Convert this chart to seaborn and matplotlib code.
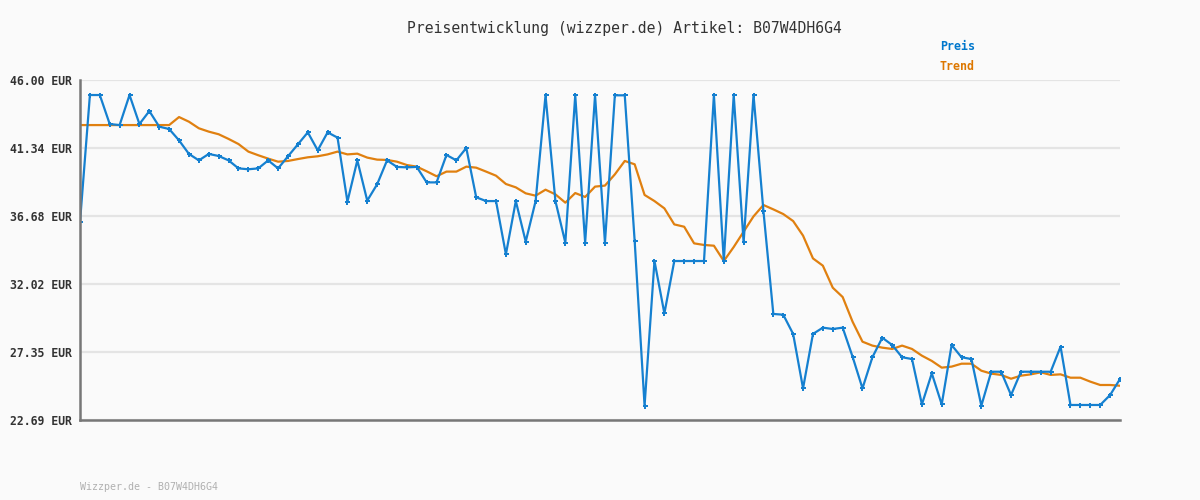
import pandas as pd
import numpy as np
import matplotlib
matplotlib.use('Agg')
import matplotlib.pyplot as plt
import seaborn as sns

# ==========================================
# 1. Price history values
# ==========================================
preis = [36.26, 44.97, 44.97, 42.98, 42.91, 44.97, 42.98, 43.87, 42.80, 42.64,
         41.86, 40.93, 40.49, 40.93, 40.79, 40.49, 39.94, 39.88, 39.94, 40.49,
         39.94, 40.77, 41.59, 42.41, 41.18, 42.41, 42.05, 37.66, 40.49, 37.73,
         38.85, 40.49, 40.04, 40.01, 40.04, 38.98, 38.98, 40.86, 40.49, 41.34,
         37.96, 37.70, 37.70, 34.05, 37.70, 34.92, 37.70, 44.95, 37.70, 34.85,
         44.95, 34.85, 44.95, 34.85, 44.95, 44.95, 34.96, 23.67, 33.59, 30.00,
         33.59, 33.59, 33.59, 33.59, 44.97, 33.59, 44.97, 34.87, 44.97, 37.02,
         29.96, 29.91, 28.59, 24.86, 28.59, 29.02, 28.93, 29.02, 27.03, 24.86,
         26.99, 28.33, 27.83, 26.99, 26.87, 23.76, 25.89, 23.76, 27.83, 26.99,
         26.87, 23.67, 26.00, 26.00, 24.40, 26.00, 26.00, 26.00, 26.00, 27.72,
         23.72, 23.72, 23.72, 23.72, 24.40, 25.50]

trend = [42.91, 42.91, 42.91, 42.91, 42.91, 42.91, 42.91, 42.91, 42.91, 42.91,
         43.46, 43.14, 42.69, 42.46, 42.28, 41.96, 41.61, 41.09, 40.84, 40.61,
         40.40, 40.45, 40.58, 40.70, 40.77, 40.90, 41.09, 40.90, 40.95, 40.68,
         40.54, 40.52, 40.40, 40.17, 40.06, 39.74, 39.40, 39.72, 39.72, 40.06,
         39.99, 39.72, 39.44, 38.87, 38.64, 38.23, 38.07, 38.48, 38.16, 37.59,
         38.25, 37.98, 38.69, 38.76, 39.53, 40.45, 40.22, 38.12, 37.70, 37.20,
         36.10, 35.94, 34.80, 34.69, 34.64, 33.59, 34.55, 35.60, 36.65, 37.43,
         37.13, 36.81, 36.33, 35.33, 33.77, 33.27, 31.76, 31.12, 29.43, 28.06,
         27.79, 27.65, 27.56, 27.79, 27.56, 27.10, 26.74, 26.28, 26.35, 26.55,
         26.55, 26.07, 25.87, 25.78, 25.52, 25.73, 25.82, 25.96, 25.78, 25.82,
         25.59, 25.59, 25.32, 25.09, 25.09, 25.04]

ytick_labels = ['22.69', '27.35', '32.02', '36.68', '41.34', '46.00']
series_names = ['Preis', 'Trend']
title_text = 'Preisentwicklung (wizzper.de) Artikel: B07W4DH6G4'
footer_text = 'Wizzper.de - B07W4DH6G4'

blue = '#1580d0'
orange = '#e08010'

df = pd.DataFrame({'idx': np.arange(len(preis)), 'Preis': preis, 'Trend': trend})

# ==========================================
# 2. Figure setup
# ==========================================
sns.set_style('white')
plt.rcParams['font.family'] = ['DejaVu Sans Mono', 'DejaVu Sans']

fig = plt.figure(figsize=(12, 5), dpi=100, facecolor='#fafafa')
ax = fig.add_axes([80 / 1200, 80 / 500, 1040 / 1200, 340 / 500])
ax.set_facecolor('#fafafa')

# Trend first, price line on top
sns.lineplot(data=df, x='idx', y='Trend', ax=ax, color=orange, linewidth=1.6)
sns.lineplot(data=df, x='idx', y='Preis', ax=ax, color=blue, linewidth=1.6,
             marker='P', markersize=3.6, markeredgewidth=0, markerfacecolor=blue)

ax.set_xlim(0, len(preis) - 1)
yticks = [float(t) for t in ytick_labels]
ax.set_ylim(yticks[0], yticks[-1])
ax.set_yticks(yticks)
ax.set_yticklabels([t + ' EUR' for t in ytick_labels], fontsize=8.3,
                   fontweight='bold', color='#333333')
ax.set_xticks([])
ax.tick_params(axis='y', length=0, pad=6)
ax.set_xlabel('')
ax.set_ylabel('')

ax.grid(axis='y', color='#e4e4e4', linewidth=1.6, zorder=0)
ax.set_axisbelow(True)
for s in ['top', 'right']:
    ax.spines[s].set_visible(False)
for s in ['left', 'bottom']:
    ax.spines[s].set_color('#777777')
    ax.spines[s].set_linewidth(1.8)

# ==========================================
# 3. Title, legend text and footer
# ==========================================
fig.text(624 / 1200, 1 - 28 / 500, title_text, ha='center', va='center',
         fontsize=10.6, color='#333333')
fig.text(940 / 1200, 1 - 47 / 500, series_names[0], ha='left', va='center',
         fontsize=8.4, fontweight='bold', color='#0077cc')
fig.text(940 / 1200, 1 - 67 / 500, series_names[1], ha='left', va='center',
         fontsize=8.4, fontweight='bold', color='#dd7700')
fig.text(80 / 1200, 1 - 487 / 500, footer_text, ha='left', va='center',
         fontsize=7.2, color='#b0b0b0')

plt.savefig('out.png', dpi=100, facecolor='#fafafa')
